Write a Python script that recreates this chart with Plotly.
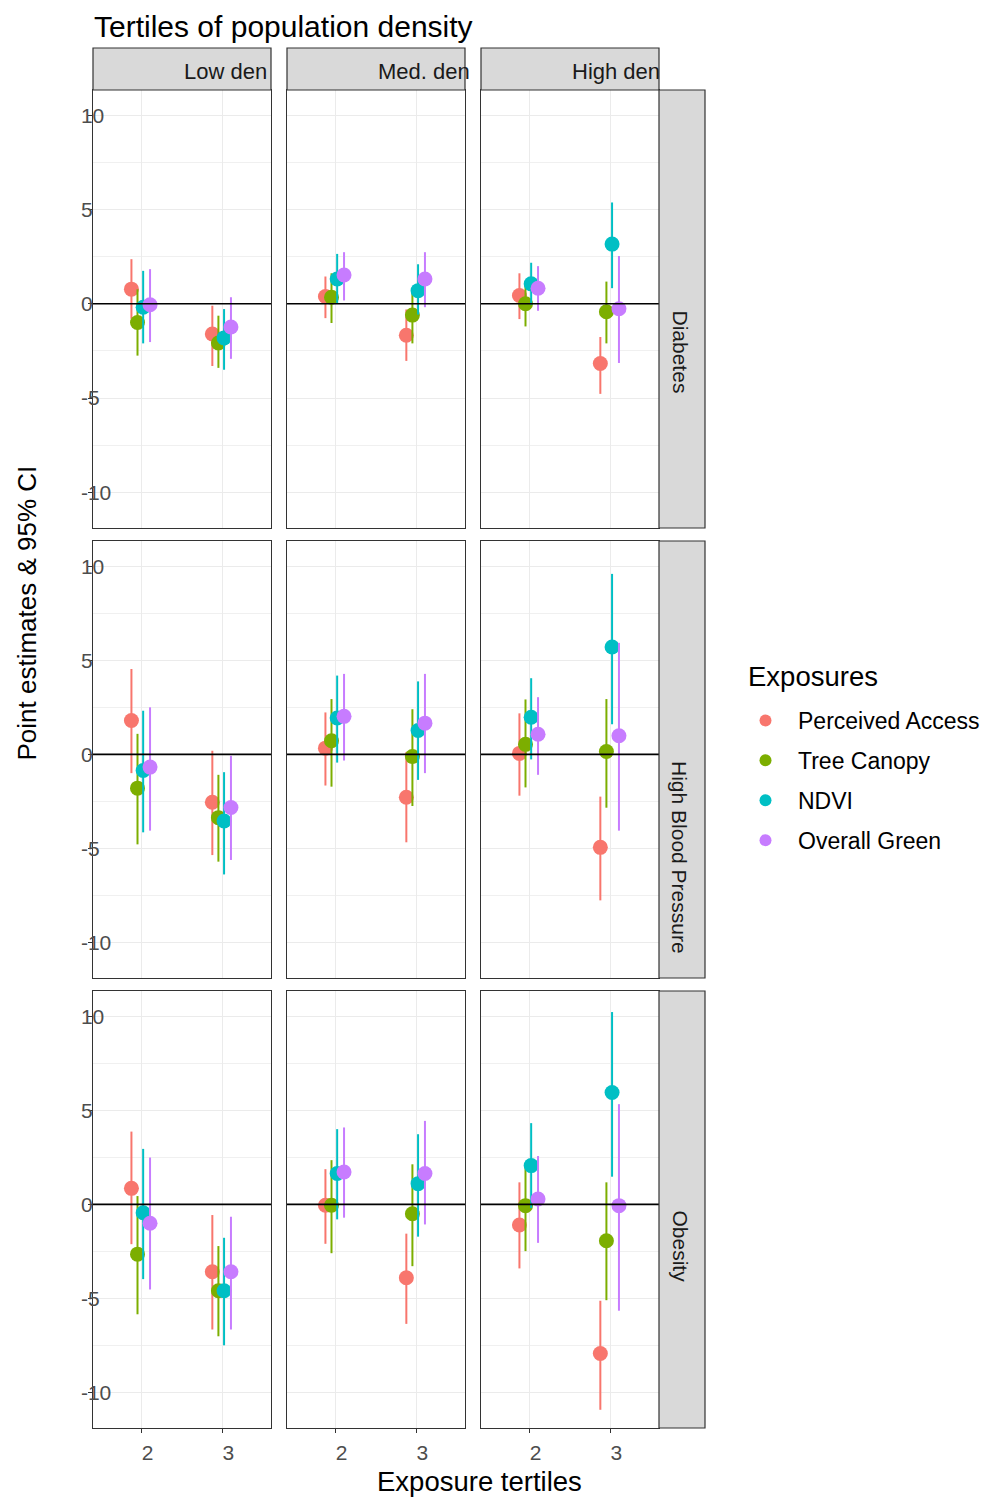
import plotly.graph_objects as go

OFF = 8  # page body margin
W, H = 989 - OFF, 1497 - OFF

outcomes = ["Diabetes", "High Blood Pressure", "Obesity"]
densities = ["Low den", "Med. den", "High den"]
tertiles = [2, 3]
exposures = ["Perceived Access", "Tree Canopy", "NDVI", "Overall Green"]
colors = ["#F8766D", "#7CAE00", "#00BFC4", "#C77CFF"]
y_ticks = [-10, -5, 0, 5, 10]
y_tick_labels = ["-10", "-5", "0", "5", "10"]

# order: outcome (Diabetes, HBP, Obesity) x density (Low, Med, High) x tertile (2, 3)
perceived_est = [0.78, -1.6, 0.39, -1.67, 0.44, -3.17,
                 1.8, -2.55, 0.33, -2.28, 0.05, -4.95,
                 0.85, -3.59, -0.05, -3.91, -1.1, -7.94]
perceived_lo = [-0.8, -3.3, -0.76, -3.03, -0.81, -4.78,
                -1.0, -5.36, -1.66, -4.68, -2.2, -7.77,
                -2.12, -6.66, -2.1, -6.36, -3.41, -10.93]
perceived_hi = [2.37, -0.1, 1.45, -0.3, 1.62, -1.76,
                4.54, 0.19, 2.23, 0.12, 2.18, -2.25,
                3.87, -0.57, 1.87, -1.56, 1.17, -5.13]

canopy_est = [-0.99, -2.08, 0.35, -0.6, 0.0, -0.42,
              -1.8, -3.37, 0.72, -0.12, 0.53, 0.15,
              -2.65, -4.6, -0.05, -0.5, -0.07, -1.94]
canopy_lo = [-2.75, -3.4, -1.02, -2.1, -1.2, -2.1,
             -4.79, -5.71, -1.72, -2.75, -1.76, -2.84,
             -5.85, -7.02, -2.6, -3.29, -2.49, -5.1]
canopy_hi = [0.77, -0.63, 1.62, 0.57, 1.2, 1.18,
             1.09, -1.09, 2.94, 2.4, 2.92, 2.94,
             0.44, -2.22, 2.35, 2.13, 2.2, 1.17]

ndvi_est = [-0.18, -1.81, 1.32, 0.7, 1.06, 3.17,
            -0.86, -3.55, 1.93, 1.27, 1.97, 5.71,
            -0.45, -4.6, 1.64, 1.1, 2.06, 5.95]
ndvi_lo = [-2.1, -3.5, 0.0, -0.57, -0.05, 0.83,
           -4.15, -6.39, -0.44, -1.36, -0.27, 1.6,
           -3.98, -7.5, -0.8, -1.72, -0.2, 1.47]
ndvi_hi = [1.75, -0.28, 2.65, 2.1, 2.18, 5.38,
           2.32, -0.95, 4.19, 3.88, 4.05, 9.6,
           2.95, -1.78, 4.0, 3.73, 4.32, 10.23]

green_est = [-0.05, -1.23, 1.53, 1.32, 0.83, -0.26,
             -0.68, -2.83, 2.02, 1.66, 1.07, 0.99,
             -1.01, -3.59, 1.72, 1.64, 0.28, -0.07]
green_lo = [-2.03, -2.92, 0.18, -0.18, -0.37, -3.14,
            -4.06, -5.62, -0.33, -1.0, -1.09, -4.06,
            -4.53, -6.66, -0.71, -1.07, -2.05, -5.66]
green_hi = [1.84, 0.35, 2.74, 2.74, 2.0, 2.54,
            2.5, -0.08, 4.28, 4.28, 3.04, 5.93,
            2.49, -0.66, 4.09, 4.44, 2.57, 5.33]

est_all = [perceived_est, canopy_est, ndvi_est, green_est]
lo_all = [perceived_lo, canopy_lo, ndvi_lo, green_lo]
hi_all = [perceived_hi, canopy_hi, ndvi_hi, green_hi]
dodge = [-0.125, -0.05, 0.02, 0.105]

FONT = "Liberation Sans, Arial, sans-serif"

# layout geometry (page pixels)
col_x = [(93, 271), (287, 465), (481, 659)]
row_y = [(90, 528), (541, 978), (991, 1428)]
strip_top = (48, 90)
strip_right = (659, 705)


def px(p):
    return (p - OFF) / W


def py(p):
    return 1 - (p - OFF) / H


fig = go.Figure()
shapes = []
annotations = []

for r in range(3):
    for c in range(3):
        n = r * 3 + c + 1
        sfx = "" if n == 1 else str(n)
        for e in range(4):
            i0 = r * 6 + c * 2
            xs = [t + dodge[e] for t in tertiles]
            ys = est_all[e][i0:i0 + 2]
            lo = lo_all[e][i0:i0 + 2]
            hi = hi_all[e][i0:i0 + 2]
            fig.add_trace(go.Scatter(
                x=xs, y=ys, mode="markers",
                marker=dict(color=colors[e], size=15, line=dict(width=0)),
                error_y=dict(type="data", symmetric=False,
                             array=[h - v for h, v in zip(hi, ys)],
                             arrayminus=[v - l for v, l in zip(ys, lo)],
                             color=colors[e], thickness=2, width=0),
                name=exposures[e], legendgroup=exposures[e],
                showlegend=(n == 1),
                xaxis="x" + sfx, yaxis="y" + sfx,
            ))
        x0, x1 = col_x[c]
        y0, y1 = row_y[r]
        fig.layout["xaxis" + sfx] = dict(
            domain=[px(x0), px(x1)], anchor="y" + sfx,
            range=[1.4, 3.6], tickvals=tertiles, ticktext=[str(t) for t in tertiles],
            showticklabels=(r == 2), ticks="outside" if r == 2 else "",
            ticklen=4, tickcolor="#333333",
            showgrid=True, gridcolor="#ebebeb", gridwidth=1.2,
            zeroline=False, showline=True, mirror=True,
            linecolor="#333333", linewidth=1.2,
            tickfont=dict(family=FONT, size=21, color="#4d4d4d"),
            ticklabelshift=6, ticklabelstandoff=2,
        )
        fig.layout["yaxis" + sfx] = dict(
            domain=[py(y1), py(y0)], anchor="x" + sfx,
            range=[-11.9, 11.35], tickvals=y_ticks, ticktext=y_tick_labels,
            showticklabels=(c == 0), ticks="outside" if c == 0 else "",
            ticklen=4, tickcolor="#333333",
            ticklabelposition="inside" if c == 0 else "outside",
            ticklabelstandoff=-11 if c == 0 else 0,
            showgrid=True, gridcolor="#ebebeb", gridwidth=1.2,
            minor=dict(dtick=2.5, tick0=0, showgrid=True, gridcolor="#f0f0f0", gridwidth=1),
            zeroline=False, showline=True, mirror=True,
            linecolor="#333333", linewidth=1.2,
            tickfont=dict(family=FONT, size=21, color="#4d4d4d"),
        )
        # horizontal reference line at 0
        shapes.append(dict(type="line", xref="x" + sfx + " domain", yref="y" + sfx,
                           x0=0, x1=1, y0=0, y1=0,
                           line=dict(color="black", width=1.6), layer="above"))

# top strips
for c in range(3):
    x0, x1 = col_x[c]
    shapes.append(dict(type="rect", xref="paper", yref="paper",
                       x0=px(x0), x1=px(x1), y0=py(strip_top[1]), y1=py(strip_top[0]),
                       fillcolor="#d9d9d9", line=dict(color="#333333", width=1.2)))
    annotations.append(dict(text=densities[c], xref="paper", yref="paper",
                            x=px((x0 + x1) / 2), y=py((strip_top[0] + strip_top[1]) / 2 + 3),
                            xanchor="left", yanchor="middle", showarrow=False,
                            font=dict(family=FONT, size=22, color="#1a1a1a")))
# right strips
for r in range(3):
    y0, y1 = row_y[r]
    shapes.append(dict(type="rect", xref="paper", yref="paper",
                       x0=px(strip_right[0]), x1=px(strip_right[1]), y0=py(y1), y1=py(y0),
                       fillcolor="#d9d9d9", line=dict(color="#333333", width=1.2)))
    annotations.append(dict(text=outcomes[r], xref="paper", yref="paper",
                            x=px((strip_right[0] + strip_right[1]) / 2 - 2),
                            y=py((y0 + y1) / 2 - 1),
                            xanchor="center", yanchor="top", textangle=90, showarrow=False,
                            font=dict(family=FONT, size=21, color="#1a1a1a")))

# title, axis titles, legend title
annotations.append(dict(text="Tertiles of population density", xref="paper", yref="paper",
                        x=px(92), y=py(26), xanchor="left", yanchor="middle", showarrow=False,
                        font=dict(family=FONT, size=30, color="black")))
annotations.append(dict(text="Exposure tertiles", xref="paper", yref="paper",
                        x=px(375), y=py(1481), xanchor="left", yanchor="middle", showarrow=False,
                        font=dict(family=FONT, size=27.5, color="black")))
annotations.append(dict(text="Point estimates & 95% CI", xref="paper", yref="paper",
                        x=px(26), y=py(763), xanchor="center", yanchor="bottom",
                        textangle=-90, showarrow=False,
                        font=dict(family=FONT, size=26, color="black")))
annotations.append(dict(text="Exposures", xref="paper", yref="paper",
                        x=px(746), y=py(676), xanchor="left", yanchor="middle", showarrow=False,
                        font=dict(family=FONT, size=27.5, color="black")))

fig.update_layout(
    width=W, height=H,
    margin=dict(l=0, r=0, t=0, b=0, autoexpand=False),
    paper_bgcolor="white", plot_bgcolor="white",
    shapes=shapes, annotations=annotations,
    showlegend=True,
    legend=dict(x=px(733), y=py(699), xanchor="left", yanchor="top",
                font=dict(family=FONT, size=23, color="black"),
                tracegroupgap=7, itemwidth=55,
                bgcolor="rgba(0,0,0,0)", itemsizing="constant"),
)

fig.write_html("out.html")
